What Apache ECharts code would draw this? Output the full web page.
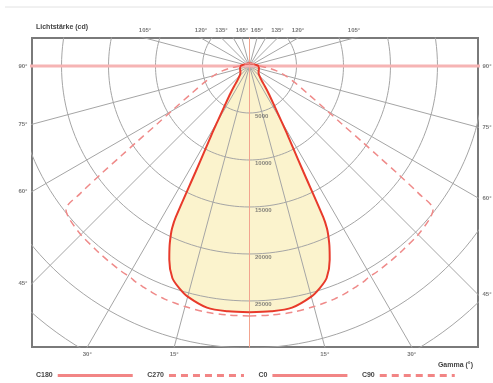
<!DOCTYPE html>
<html>
<head>
<meta charset="utf-8">
<script src="https://cdn.jsdelivr.net/npm/echarts@6/dist/echarts.min.js"></script>
<style>
html,body{margin:0;padding:0;background:#fff;}
#chart{width:493px;height:383px;}
</style>
</head>
<body>
<div id="chart"></div>
<script>
// gamma angles (deg) of the measured points
const gammaDeg = [0,5,10,15,17.5,20,22.5,24,25,25.5,26,27,28,29,30,32,35,38,40,45,50,52,53,54,55,56,58,60,65,70,75,80,85,90,100,120,150,180];
// luminous intensity (cd) per C plane
const c0   = [26200,26200,26100,25400,24800,24000,22300,20900,19800,19150,17900,12600,9900,8250,6800,5000,3500,2450,2000,1500,1280,1240,1220,1200,1180,1160,1140,1120,1090,1060,1040,1010,990,960,700,450,320,280];
const c180 = [26200,26200,26100,25400,24800,24000,22300,20900,19800,19150,17900,12600,9900,8250,6800,5000,3500,2450,2000,1500,1280,1240,1220,1200,1180,1160,1140,1120,1090,1060,1040,1010,990,960,700,450,320,280];
const c90  = [26600,26600,26600,26500,26440,26390,26280,26170,26120,26100,26070,26010,25960,25850,25800,25750,25640,25540,25480,25380,25110,24790,22560,19470,16700,14580,11490,9580,6700,5110,3940,2870,1810,1060,750,480,330,280];
const c270 = [26600,26600,26600,26500,26440,26390,26280,26170,26120,26100,26070,26010,25960,25850,25800,25750,25640,25540,25480,25380,25110,24790,22560,19470,16700,14580,11490,9580,6700,5110,3940,2870,1810,1060,750,480,330,280];

// grid circles and their labels
const rings = [5000,10000,15000,20000,25000,30000,35000];
const ringLabels = ['5000','10000','15000','20000','25000'];
// radial lines every 15 deg, labelled angles on the frame
const spokeStep = 15;
const edgeAngles = [15,30,45,60,75,90,105,120,135,165];

// layout: frame in pixels, centre offset inside it, cd per pixel
const G = {left:32, top:38, width:446, height:309};
const cx = 217.5, cy = 28, cdPerPx = 106.4;
const xMin = -cx*cdPerPx, xMax = (G.width-cx)*cdPerPx;
const yMax = cy*cdPerPx, yMin = -(G.height-cy)*cdPerPx;

const rad = d => d*Math.PI/180;
const pt = (I, g, side) => [side*I*Math.sin(rad(g)), -I*Math.cos(rad(g))];
const half = (vals, side) => gammaDeg.map((g,i) => pt(vals[i], g, side));

const series = [];

// yellow fill of C0/C180
series.push({
  type:'line', z:1, silent:true, smooth:0.3, symbol:'none',
  data: half(c180,-1).reverse().concat(half(c0,1)),
  lineStyle:{width:0}, areaStyle:{color:'#fbf3cd', opacity:1}
});

// circles
rings.forEach(r => {
  const d = [];
  for (let a=0; a<=360; a+=2) d.push(pt(r, a, 1));
  series.push({type:'line', z:2, silent:true, symbol:'none', data:d,
    lineStyle:{color:'#a5a5a5', width:1}});
});

// radial lines
const far = 60000;
for (let a=0; a<360; a+=spokeStep) {
  const main = a % 90 === 0;
  const horiz = a === 90 || a === 270;
  series.push({type:'line', z: main ? 3 : 2, silent:true, symbol:'none',
    data:[[0,0], pt(far, a, 1)],
    lineStyle: main
      ? (horiz ? {color:'#f6b4b4', width:3} : {color:'#f2a48f', width:1})
      : {color:'#a5a5a5', width:1}});
}

// intensity curves
const solid = {color:'#e83a2b', width:2};
const dashed = {color:'#ef8a89', width:1.5, type:[7,5]};
[['C180',c180,-1,solid],['C270',c270,-1,dashed],['C0',c0,1,solid],['C90',c90,1,dashed]].forEach(([n,v,s,ls]) => {
  series.push({name:n, type:'line', z:4, smooth:0.3, symbol:'none', silent:true,
    data: half(v, s), lineStyle: ls, itemStyle:{color: ls.color}});
});

// ring labels along gamma 0
series.push({type:'scatter', z:5, silent:true, clip:false, symbolSize:1,
  itemStyle:{color:'rgba(0,0,0,0)'},
  data: ringLabels.map((t,i) => ({value:[0,-rings[i]], name:t})),
  label:{show:true, position:'right', distance:5, offset:[0,3], formatter:'{b}',
    fontSize:6, fontWeight:'bold', color:'#666', fontFamily:'Liberation Sans'}});

// angle labels where the radial lines meet the frame
const edgeData = [];
edgeAngles.forEach(g => {
  [-1,1].forEach(s => {
    const dx = s*Math.sin(rad(g)), dy = -Math.cos(rad(g));
    const cand = [];
    if (dx > 1e-9) cand.push([xMax/dx,'right']);
    if (dx < -1e-9) cand.push([xMin/dx,'left']);
    if (dy > 1e-9) cand.push([yMax/dy,'top']);
    if (dy < -1e-9) cand.push([yMin/dy,'bottom']);
    cand.sort((a,b) => a[0]-b[0]);
    const [t,pos] = cand[0];
    edgeData.push({value:[dx*t, dy*t], name:g+'°', label:{position:pos}});
  });
});
series.push({type:'scatter', z:5, silent:true, clip:false, symbolSize:1,
  itemStyle:{color:'rgba(0,0,0,0)'}, data: edgeData,
  label:{show:true, distance:4, formatter:'{b}', fontSize:6, fontWeight:'bold',
    color:'#555', fontFamily:'Liberation Sans'}});

const chart = echarts.init(document.getElementById('chart'));
chart.setOption({
  animation:false,
  backgroundColor:'#fff',
  grid:{left:G.left, top:G.top, width:G.width, height:G.height, show:true,
    borderColor:'#7a7a7a', borderWidth:2, backgroundColor:'#fff'},
  xAxis:{type:'value', min:xMin, max:xMax, show:false},
  yAxis:{type:'value', min:yMin, max:yMax, show:false},
  title:[
    {text:'Lichtstärke (cd)', left:31, top:19, textStyle:{fontSize:7, fontWeight:'bold', color:'#444', fontFamily:'Liberation Sans'}},
    {text:'Gamma (°)', right:15, top:357, textStyle:{fontSize:7, fontWeight:'bold', color:'#444', fontFamily:'Liberation Sans'}}
  ],
  legend:{data:['C180','C270','C0','C90'], left:31, top:367, align:'right',
    itemWidth:75, itemHeight:6, itemGap:13, selectedMode:false,
    lineStyle:{width:3, color:'#f28585'}, itemStyle:{opacity:0},
    textStyle:{fontSize:7, fontWeight:'bold', color:'#444', fontFamily:'Liberation Sans'}},
  graphic:[{type:'line', shape:{x1:5, y1:7, x2:493, y2:7}, style:{stroke:'#e2e2e2', lineWidth:1}}],
  series: series
});
</script>
</body>
</html>
